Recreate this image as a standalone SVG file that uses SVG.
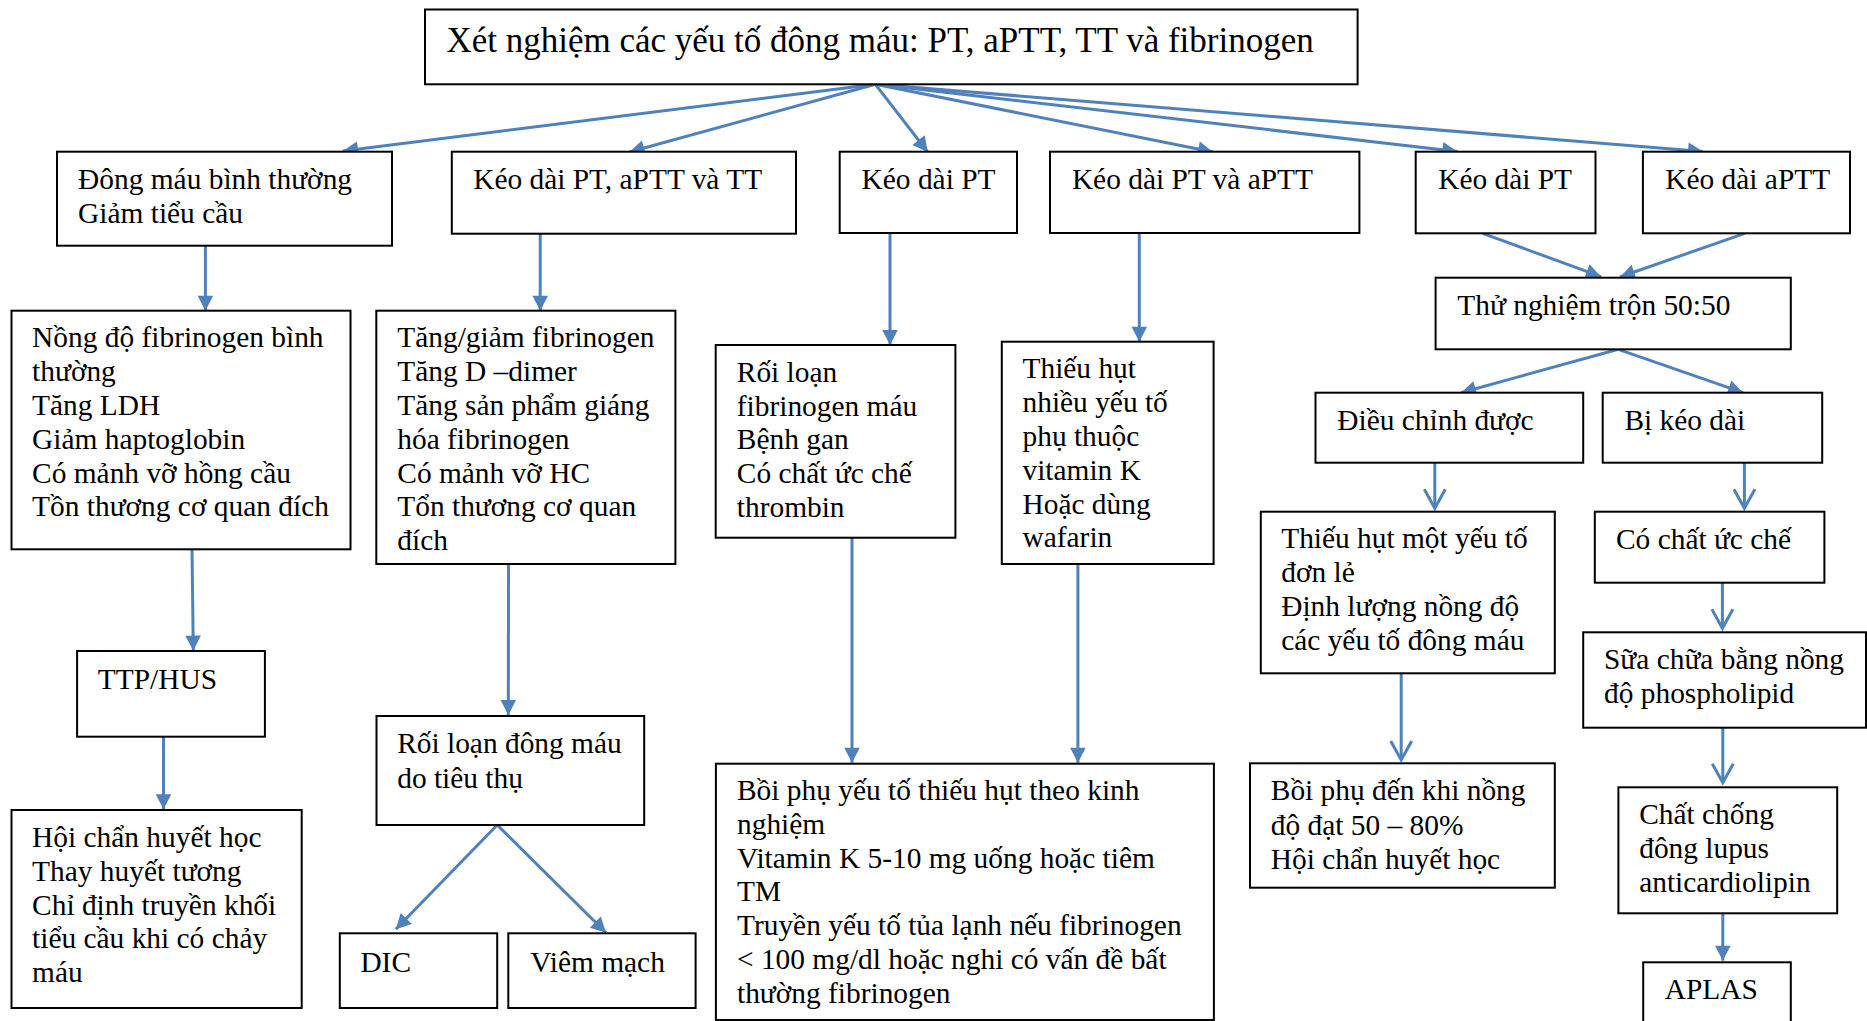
<svg xmlns="http://www.w3.org/2000/svg" width="1867" height="1021" viewBox="0 0 1867 1021">
<style>
.box{fill:#fff;stroke:#000;stroke-width:2}
.t{font-family:"Liberation Serif","Times New Roman",serif;font-size:29.4px;fill:#000}
.title{font-family:"Liberation Serif","Times New Roman",serif;font-size:35px;fill:#000}
.c line{stroke:#4F81BD;stroke-width:3}
.f{marker-end:url(#af)}
.o{marker-end:url(#ao)}
</style>
<defs>
<marker id="af" markerUnits="userSpaceOnUse" markerWidth="16" markerHeight="16" refX="15" refY="7.8" orient="auto" overflow="visible">
<path d="M0,0 L15,7.8 L0,15.6 z" fill="#4F81BD"/>
</marker>
<marker id="ao" markerUnits="userSpaceOnUse" markerWidth="20" markerHeight="22" refX="19" refY="10.5" orient="auto" overflow="visible">
<path d="M0,0 L19,10.5 L0,21" fill="none" stroke="#4F81BD" stroke-width="3"/>
</marker>
</defs>
<rect width="1867" height="1021" fill="#fff"/>

<g id="connectors" class="c">
<line class="f" x1="875.4" y1="84.3" x2="343" y2="151"/>
<line class="f" x1="875.4" y1="84.3" x2="629.5" y2="152"/>
<line class="f" x1="875.4" y1="84.3" x2="927.7" y2="152"/>
<line class="f" x1="875.4" y1="84.3" x2="1213" y2="152"/>
<line class="f" x1="875.4" y1="84.3" x2="1457.3" y2="151.5"/>
<line class="f" x1="875.4" y1="84.3" x2="1703" y2="151.5"/>
<line class="f" x1="205.4" y1="245.7" x2="205.4" y2="310.7"/>
<line class="f" x1="540.2" y1="233.7" x2="540.2" y2="310.7"/>
<line class="f" x1="890" y1="233" x2="890" y2="345"/>
<line class="f" x1="1139.3" y1="233" x2="1139.3" y2="341.7"/>
<line class="f" x1="1482.6" y1="233.3" x2="1601" y2="276.7"/>
<line class="f" x1="1744.8" y1="233.3" x2="1620" y2="277"/>
<line class="f" x1="1618.3" y1="349.3" x2="1461" y2="392.7"/>
<line class="f" x1="1618.3" y1="349.3" x2="1743" y2="392.7"/>
<line class="o" x1="1434.8" y1="462.7" x2="1434.8" y2="508.3"/>
<line class="o" x1="1744.4" y1="462.7" x2="1744.4" y2="508.3"/>
<line class="o" x1="1722.4" y1="582.7" x2="1722.4" y2="628.3"/>
<line class="o" x1="1401.2" y1="673.3" x2="1401.2" y2="760"/>
<line class="o" x1="1722.8" y1="727.7" x2="1722.8" y2="782.7"/>
<line class="f" x1="1722.8" y1="913.3" x2="1722.8" y2="960.7"/>
<line class="f" x1="192" y1="549.3" x2="193.3" y2="650.7"/>
<line class="f" x1="508.5" y1="564" x2="508.3" y2="715"/>
<line class="f" x1="163.5" y1="736.7" x2="163.5" y2="809.3"/>
<line class="f" x1="497.2" y1="825" x2="395.8" y2="929.3"/>
<line class="f" x1="497.2" y1="825" x2="606" y2="932.7"/>
<line class="f" x1="852" y1="537.7" x2="852" y2="762.7"/>
<line class="f" x1="1077.9" y1="564" x2="1077.9" y2="762.7"/>
</g>

<g id="n-title">
<rect class="box" x="425" y="9.5" width="932.6" height="74.8"/>
<text class="title" x="446.4" y="51.7">Xét nghiệm các yếu tố đông máu: PT, aPTT, TT và fibrinogen</text>
</g>

<g id="n-dong-mau-binh-thuong">
<rect class="box" x="57" y="151.7" width="335" height="94"/>
<text class="t" x="78.1" y="189.3">Đông máu bình thường<tspan x="78.1" dy="34">Giảm tiểu cầu</tspan></text>
</g>

<g id="n-keo-dai-pt-aptt-tt">
<rect class="box" x="451.8" y="151.7" width="344.2" height="82"/>
<text class="t" x="473.2" y="189.3">Kéo dài PT, aPTT và TT</text>
</g>

<g id="n-keo-dai-pt-1">
<rect class="box" x="839.7" y="151.7" width="177.3" height="81.3"/>
<text class="t" x="861.6" y="189.3">Kéo dài PT</text>
</g>

<g id="n-keo-dai-pt-aptt">
<rect class="box" x="1050" y="151.7" width="309.4" height="81.3"/>
<text class="t" x="1071.9" y="189.3">Kéo dài PT và aPTT</text>
</g>

<g id="n-keo-dai-pt-2">
<rect class="box" x="1415.7" y="151.7" width="179.8" height="81.6"/>
<text class="t" x="1438.2" y="189.3">Kéo dài PT</text>
</g>

<g id="n-keo-dai-aptt">
<rect class="box" x="1642.9" y="151.7" width="207.1" height="81.6"/>
<text class="t" x="1665.3" y="189.3">Kéo dài aPTT</text>
</g>

<g id="n-nong-do">
<rect class="box" x="11.5" y="310.7" width="339" height="238.6"/>
<text class="t" x="32.1" y="347.3">Nồng độ fibrinogen bình<tspan x="32.1" dy="33.8">thường</tspan><tspan x="32.1" dy="33.8">Tăng LDH</tspan><tspan x="32.1" dy="33.8">Giảm haptoglobin</tspan><tspan x="32.1" dy="33.8">Có mảnh vỡ hồng cầu</tspan><tspan x="32.1" dy="33.8">Tồn thương cơ quan đích</tspan></text>
</g>

<g id="n-tang-giam">
<rect class="box" x="376.3" y="310.7" width="299.1" height="253.3"/>
<text class="t" x="397.3" y="347.3">Tăng/giảm fibrinogen<tspan x="397.3" dy="33.8">Tăng D –dimer</tspan><tspan x="397.3" dy="33.8">Tăng sản phẩm giáng</tspan><tspan x="397.3" dy="33.8">hóa fibrinogen</tspan><tspan x="397.3" dy="33.8">Có mảnh vỡ HC</tspan><tspan x="397.3" dy="33.8">Tổn thương cơ quan</tspan><tspan x="397.3" dy="33.8">đích</tspan></text>
</g>

<g id="n-roi-loan-fibrinogen">
<rect class="box" x="715.7" y="345" width="239.7" height="192.7"/>
<text class="t" x="736.8" y="381.7">Rối loạn<tspan x="736.8" dy="33.8">fibrinogen máu</tspan><tspan x="736.8" dy="33.8">Bệnh gan</tspan><tspan x="736.8" dy="33.8">Có chất ức chế</tspan><tspan x="736.8" dy="33.8">thrombin</tspan></text>
</g>

<g id="n-thieu-hut-nhieu">
<rect class="box" x="1001.8" y="341.7" width="211.8" height="222.3"/>
<text class="t" x="1022.5" y="378.3">Thiếu hụt<tspan x="1022.5" dy="33.8">nhiều yếu tố</tspan><tspan x="1022.5" dy="33.8">phụ thuộc</tspan><tspan x="1022.5" dy="33.8">vitamin K</tspan><tspan x="1022.5" dy="33.8">Hoặc dùng</tspan><tspan x="1022.5" dy="33.8">wafarin</tspan></text>
</g>

<g id="n-thu-nghiem-tron">
<rect class="box" x="1435.6" y="277.7" width="355.2" height="71.6"/>
<text class="t" x="1457.3" y="315">Thử nghiệm trộn 50:50</text>
</g>

<g id="n-dieu-chinh-duoc">
<rect class="box" x="1315.5" y="392.7" width="267.7" height="70"/>
<text class="t" x="1337.3" y="430">Điều chỉnh được</text>
</g>

<g id="n-bi-keo-dai">
<rect class="box" x="1602.7" y="392.7" width="219.5" height="70"/>
<text class="t" x="1624.4" y="430">Bị kéo dài</text>
</g>

<g id="n-thieu-hut-mot">
<rect class="box" x="1260.8" y="511.7" width="294" height="161.6"/>
<text class="t" x="1281.2" y="548.3">Thiếu hụt một yếu tố<tspan x="1281.2" dy="33.8">đơn lẻ</tspan><tspan x="1281.2" dy="33.8">Định lượng nồng độ</tspan><tspan x="1281.2" dy="33.8">các yếu tố đông máu</tspan></text>
</g>

<g id="n-co-chat-uc-che">
<rect class="box" x="1594.8" y="511.7" width="229.6" height="71"/>
<text class="t" x="1616" y="549.3">Có chất ức chế</text>
</g>

<g id="n-sua-chua">
<rect class="box" x="1583.2" y="632.3" width="282.8" height="95.4"/>
<text class="t" x="1604" y="669.3">Sữa chữa bằng nồng<tspan x="1604" dy="34">độ phospholipid</tspan></text>
</g>

<g id="n-ttp-hus">
<rect class="box" x="77.1" y="651" width="187.8" height="85.7"/>
<text class="t" x="97.8" y="689.3">TTP/HUS</text>
</g>

<g id="n-hoi-chan">
<rect class="box" x="11.5" y="810" width="290.2" height="198"/>
<text class="t" x="32.1" y="846.7">Hội chẩn huyết học<tspan x="32.1" dy="33.9">Thay huyết tương</tspan><tspan x="32.1" dy="33.9">Chỉ định truyền khối</tspan><tspan x="32.1" dy="33.9">tiểu cầu khi có chảy</tspan><tspan x="32.1" dy="33.9">máu</tspan></text>
</g>

<g id="n-roi-loan-dong-mau">
<rect class="box" x="376.5" y="716" width="267.7" height="109"/>
<text class="t" x="397.2" y="753.3">Rối loạn đông máu<tspan x="397.2" dy="34.4">do tiêu thụ</tspan></text>
</g>

<g id="n-dic">
<rect class="box" x="339.8" y="933.3" width="157.4" height="74.7"/>
<text class="t" x="360.4" y="971.7">DIC</text>
</g>

<g id="n-viem-mach">
<rect class="box" x="508.3" y="933.3" width="187.3" height="74.7"/>
<text class="t" x="530.3" y="971.7">Viêm mạch</text>
</g>

<g id="n-boi-phu">
<rect class="box" x="715.9" y="763.7" width="498" height="256.3"/>
<text class="t" x="737" y="800">Bồi phụ yếu tố thiếu hụt theo kinh<tspan x="737" dy="33.8">nghiệm</tspan><tspan x="737" dy="33.8">Vitamin K 5-10 mg uống hoặc tiêm</tspan><tspan x="737" dy="33.8">TM</tspan><tspan x="737" dy="33.8">Truyền yếu tố tủa lạnh nếu fibrinogen</tspan><tspan x="737" dy="33.8">&lt; 100 mg/dl hoặc nghi có vấn đề bất</tspan><tspan x="737" dy="33.8">thường fibrinogen</tspan></text>
</g>

<g id="n-boi-phu-den">
<rect class="box" x="1250" y="763.3" width="304.8" height="124.4"/>
<text class="t" x="1270.8" y="800">Bồi phụ đến khi nồng<tspan x="1270.8" dy="34.5">độ đạt 50 – 80%</tspan><tspan x="1270.8" dy="34.5">Hội chẩn huyết học</tspan></text>
</g>

<g id="n-chat-chong">
<rect class="box" x="1618.4" y="787.3" width="218.8" height="126"/>
<text class="t" x="1639.2" y="824">Chất chống<tspan x="1639.2" dy="34">đông lupus</tspan><tspan x="1639.2" dy="34">anticardiolipin</tspan></text>
</g>

<g id="n-aplas">
<rect class="box" x="1643.2" y="962.3" width="147.6" height="70"/>
<text class="t" x="1664.8" y="999">APLAS</text>
</g>
</svg>
